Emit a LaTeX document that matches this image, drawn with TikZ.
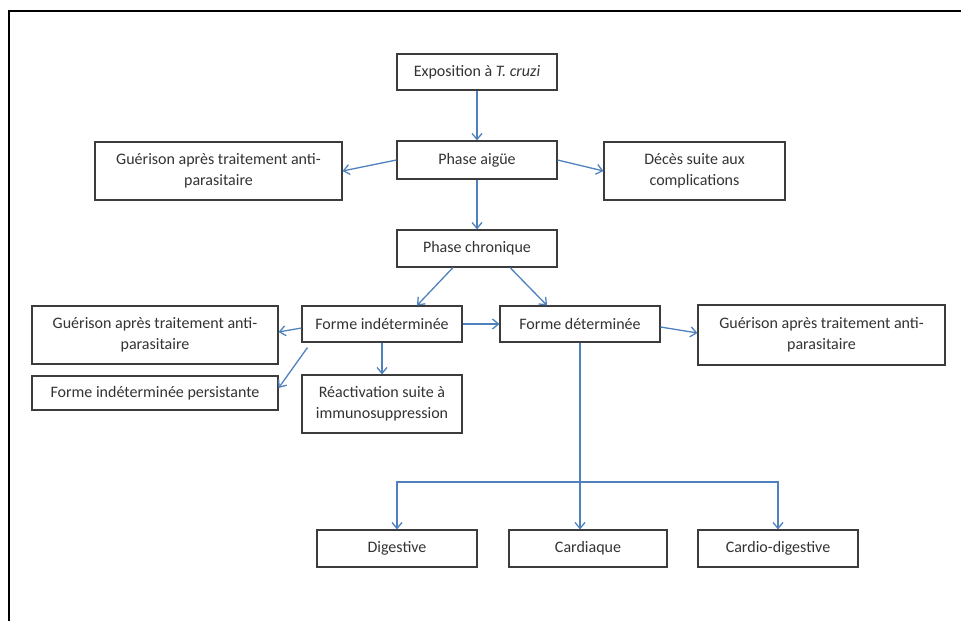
\documentclass[tikz,border=0pt]{standalone}
\usepackage{fontspec}
\setmainfont{Carlito}
\usetikzlibrary{arrows.meta,shadows}
\definecolor{arrowblue}{HTML}{4F81BD}
\definecolor{txtgray}{HTML}{333333}
\definecolor{boxline}{HTML}{3C3C3C}
\begin{document}
\begin{tikzpicture}[x=1pt,y=-1pt,
  box/.style={rectangle, draw=boxline, line width=1.1pt, fill=white,
    text=txtgray, align=center, inner sep=0pt, anchor=center,
    font=\fontsize{16}{20.5}\selectfont,
    drop shadow={shadow xshift=0.7pt, shadow yshift=-1.3pt, fill=black!30, opacity=1}},
  arr/.style={draw=arrowblue, line width=1.3pt,
    -{Straight Barb[length=6pt,width=10pt,line width=1.3pt]}},
  frame/.style={draw=black, line width=2.2pt}]
\useasboundingbox (0,0) rectangle (961,621);
\draw[frame] (9,621) -- (9,11) -- (961,11);

\node[box, minimum width=160, minimum height=36] (expo) at (477,72) {Exposition à \textit{T. cruzi}};
\node[box, minimum width=160, minimum height=38] (aigue) at (477,160) {Phase aigüe};
\node[box, minimum width=247, minimum height=58] (gt) at (218.5,171) {Guérison après traitement anti-\\parasitaire};
\node[box, minimum width=181, minimum height=58] (deces) at (694.5,171) {Décès suite aux\\complications};
\node[box, minimum width=160, minimum height=37] (chron) at (477,248.5) {Phase chronique};
\node[box, minimum width=160, minimum height=36] (indet) at (382,324) {Forme indéterminée};
\node[box, minimum width=160, minimum height=36] (det) at (580,324) {Forme déterminée};
\node[box, minimum width=246, minimum height=58] (gl) at (155,335) {Guérison après traitement anti-\\parasitaire};
\node[box, minimum width=246, minimum height=34] (pers) at (155,393) {Forme indéterminée persistante};
\node[box, minimum width=160, minimum height=58] (react) at (382,404) {Réactivation suite à\\immunosuppression};
\node[box, minimum width=247, minimum height=60] (gr) at (821.5,335) {Guérison après traitement anti-\\parasitaire};
\node[box, minimum width=160, minimum height=37] (dig) at (397,548.5) {Digestive};
\node[box, minimum width=158, minimum height=37] (card) at (588,548.5) {Cardiaque};
\node[box, minimum width=160, minimum height=37] (cdig) at (778,548.5) {Cardio-digestive};
\coordinate (j) at (580,482);

\draw[arr] (expo.south) -- (aigue.north);
\draw[arr] (aigue.west) -- (gt.east);
\draw[arr] (aigue.east) -- (deces.west);
\draw[arr] (aigue.south) -- (chron.north);
\draw[arr] ([xshift=-24pt]chron.south) -- ([xshift=35pt]indet.north);
\draw[arr] ([xshift=33pt]chron.south) -- ([xshift=-33pt]det.north);
\draw[arr] (indet.east) -- (det.west);
\draw[arr] ([yshift=-4pt]indet.west) -- ([yshift=3pt]gl.east);
\draw[arr] ([xshift=6pt,yshift=-5pt]indet.south west) -- ([yshift=5pt]pers.east);
\draw[arr] (indet.south) -- (react.north);
\draw[arr] ([yshift=-3pt]det.east) -- ([yshift=2pt]gr.west);
\draw[arr] (det.south) -- (det.south |- card.north);
\draw[arr] (j) -| (dig.north);
\draw[arr] (j) -| (cdig.north);
\end{tikzpicture}
\end{document}
